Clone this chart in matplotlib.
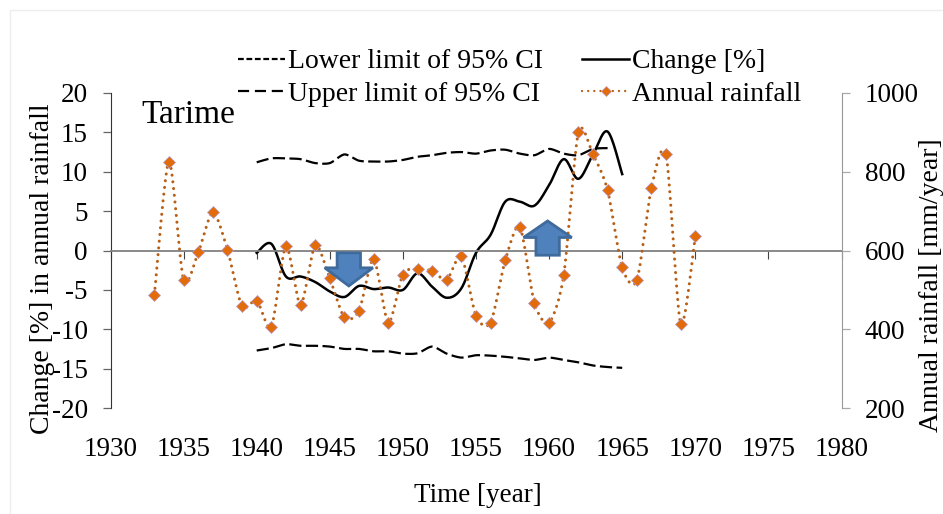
#!/usr/bin/env python3
"""Tarime rainfall change chart: change + 95% CI on the left axis, annual rainfall on the right."""

import matplotlib
matplotlib.use("Agg")
import matplotlib.pyplot as plt
import numpy as np
from matplotlib.lines import Line2D
from matplotlib.patches import FancyArrow

plt.rcParams["font.family"] = ["Liberation Serif", "DejaVu Serif"]

rain_years = list(range(1933, 1971))
rainfall = [487, 826, 525, 595, 697, 602, 458, 473, 406, 611, 462, 613, 529, 430, 447, 578, 417, 539, 554,
            548, 526, 585, 434, 417, 575, 660, 466, 417, 537, 900, 844, 753, 557, 524, 760, 844, 414, 636]

change_years = list(range(1940, 1966))
change = [-0.3, 0.85, -3.3, -3.3, -4.0, -5.2, -5.9, -4.5, -4.9, -4.7, -5.0, -2.9, -4.6, -6.0, -4.8, -0.3,
          2.0, 6.2, 6.2, 5.7, 8.3, 11.6, 9.1, 12.2, 15.1, 9.7]
upper = [11.2, 11.7, 11.7, 11.6, 11.1, 11.1, 12.2, 11.4, 11.3, 11.3, 11.5, 11.9, 12.1, 12.4, 12.5, 12.3,
         12.7, 12.8, 12.3, 12.1, 12.9, 12.3, 12.1, 12.9, 13.0]
lower = [-12.7, -12.4, -11.9, -12.1, -12.1, -12.2, -12.5, -12.5, -12.8, -12.8, -13.1, -13.05, -12.2, -13.1,
         -13.6, -13.3, -13.35, -13.5, -13.7, -13.9, -13.6, -13.9, -14.2, -14.6, -14.8, -14.9]

x_ticks = list(range(1930, 1981, 5))
left_ticks = list(range(-20, 21, 5))
right_ticks = list(range(200, 1001, 200))

FS = 19.5
LEG_FS = 20
W, H = 943, 514


def smooth(xs, ys, k=1 / 7.5, n=16):
    # spreadsheet style smoothed line: bezier handles along the neighbour chord
    pts = np.column_stack([np.asarray(xs, float), np.asarray(ys, float)])
    prev = np.vstack([pts[0], pts[:-1]])
    nxt = np.vstack([pts[1:], pts[-1]])
    tan = (nxt - prev) * k
    t = np.linspace(0, 1, n, endpoint=False)[:, None]
    out = []
    for i in range(len(pts) - 1):
        a, d = pts[i], pts[i + 1]
        b, c = a + tan[i], d - tan[i + 1]
        out.append((1 - t) ** 3 * a + 3 * (1 - t) ** 2 * t * b + 3 * (1 - t) * t ** 2 * c + t ** 3 * d)
    out.append(pts[-1:])
    out = np.vstack(out)
    return out[:, 0], out[:, 1]


fig = plt.figure(figsize=(W / 100, H / 100), dpi=100)
ax = fig.add_axes([110.5 / W, 1 - 408 / H, 731 / W, 315 / H])
ax.set_xlim(1930, 1980)
ax.set_ylim(-20, 20)

ax2 = ax.twinx()
ax2.set_ylim(200, 1000)

ax.plot(*smooth(change_years[:len(upper)], upper), color="black", lw=1.6, ls=(0, (5.5, 2)))
ax.plot(*smooth(change_years, lower), color="black", lw=1.6, ls=(0, (5.5, 2)))
ax.plot(*smooth(change_years, change, k=1 / 6), color="black", lw=1.8)

ax2.plot(*smooth(rain_years, rainfall), color="#B85F16", lw=2.2, ls=(0, (0.01, 2.2)), dash_capstyle="round")
ax2.plot(rain_years, rainfall, ls="none", marker="D", ms=6, mfc="#E36C0A", mec="#B49AC8", mew=0.5)

for (x, y, dy, head) in ((1946.3, -0.3, -4.2, 2.3), (1959.9, -0.6, 4.35, 2.1)):
    # arrows sit in ax2 but are given in left axis units
    ax2.add_patch(FancyArrow(x, 600 + y * 20, 0, dy * 20, width=1.6, head_width=3.3, head_length=head * 20,
                             length_includes_head=True, fc="#4F81BD", ec="#3F6A9C", lw=2, zorder=5))

ax.text(1932.1, 17.3, "Tarime", fontsize=24, ha="left", va="center")

for side in ("top", "right"):
    ax.spines[side].set_visible(False)
ax.spines["left"].set_color("#333333")
ax.spines["bottom"].set_position(("data", 0))
ax.spines["bottom"].set_color("#808080")
ax.spines["bottom"].set_linewidth(1.3)
ax.set_xticks(x_ticks)
ax.set_yticks(left_ticks)
ax.set_yticklabels([str(v) for v in left_ticks])
ax.tick_params(axis="x", length=5.5, width=0.8, color="#444444", pad=129, labelsize=FS)
ax.tick_params(axis="y", length=5.8, width=0.9, color="#666666", pad=10.5, labelsize=FS)

for side in ("top", "left", "bottom"):
    ax2.spines[side].set_visible(False)
ax2.spines["right"].set_color("#999999")
ax2.set_yticks(right_ticks)
ax2.tick_params(axis="y", length=5.8, width=0.9, color="#aaaaaa", pad=11, labelsize=FS)

handles = [
    Line2D([], [], color="black", lw=1.6, ls=(0, (2.6, 1.2))),
    Line2D([], [], color="black", lw=1.6, ls=(0, (5, 2.6))),
    Line2D([], [], color="black", lw=1.8),
    Line2D([], [], color="#B85F16", lw=1.7, ls=(0, (0.01, 2.6)), dash_capstyle="round", marker="D", ms=5,
           mfc="#E36C0A", mec="#B49AC8", mew=0.5),
]
labels = ["Lower limit of 95% CI", "Upper limit of 95% CI", "Change [%]", "Annual rainfall"]
ax2.legend(handles, labels, ncols=2, frameon=False, fontsize=LEG_FS, loc="upper left",
           bbox_to_anchor=(238 / W, 1 - 49 / H), bbox_transform=fig.transFigure, borderpad=0, borderaxespad=0,
           handlelength=1.7, handletextpad=0.1, columnspacing=1.4, labelspacing=0.26)

fig.text(43 / W, 1 - 269 / H, "Change [%] in annual rainfall", rotation=90, fontsize=20, ha="center", va="center")
fig.text(931 / W, 1 - 285 / H, "Annual rainfall [mm/year]", rotation=90, fontsize=20, ha="center", va="center")
fig.text(478 / W, 1 - 496 / H, "Time [year]", fontsize=FS, ha="center", va="center")

# faint slide frame around the chart
fig.add_artist(Line2D([1, 9.5 / W, 9.5 / W], [1 - 10 / H, 1 - 10 / H, 0], color="#eeeeee", lw=1))

fig.savefig("out.png", dpi=100)
